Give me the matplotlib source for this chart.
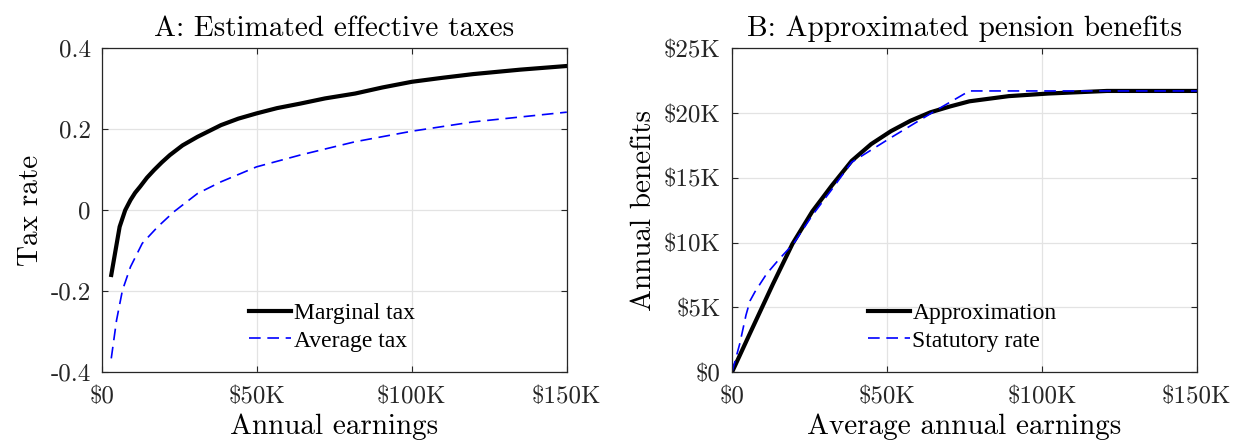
import numpy as np
import matplotlib.pyplot as plt
from matplotlib.ticker import FuncFormatter

# Panel A: effective tax rates (earnings in $K)
earn_a = [3.0, 5.7, 7.5, 9.2, 10.7, 12.3, 14.5, 16.8, 19.3, 21.9, 26.0, 30.8, 38.4, 44.0,
          49.9, 56.5, 63.9, 72.0, 81.7, 90.5, 100.0, 110.0, 119.8, 135.0, 150.0]
marginal_tax = [-0.16, -0.041, 0.0, 0.025, 0.043, 0.058, 0.08, 0.099, 0.118, 0.136, 0.16,
                0.181, 0.21, 0.226, 0.239, 0.252, 0.263, 0.276, 0.288, 0.303, 0.317,
                0.327, 0.336, 0.347, 0.356]
earn_avg = [3.0, 4.7, 6.6, 9.2, 13.0, 18.0, 23.2, 30.8, 38.4, 49.9, 63.9, 81.7, 100.0, 119.8, 150.0]
average_tax = [-0.366, -0.272, -0.198, -0.14, -0.082, -0.041, -0.004, 0.041, 0.07, 0.107,
               0.136, 0.169, 0.195, 0.218, 0.242]

# Panel B: pension benefits (both axes in $K)
earn_b = [0, 5.6, 13.2, 19.5, 25.9, 32.2, 38.6, 44.9, 51.3, 57.6, 64.0, 70.3, 76.6, 89.3,
          102.0, 121.0, 150.0]
approx_benefit = [0, 2.9, 6.8, 9.9, 12.4, 14.4, 16.3, 17.6, 18.6, 19.4, 20.05, 20.5, 20.9,
                  21.3, 21.5, 21.7, 21.7]
earn_stat = [0, 2.5, 4.5, 5.8, 7.4, 11.2, 15.5, 19.8, 25.9, 32.2, 38.6, 51.3, 66.5, 76.6, 100.0, 150.0]
statutory = [0, 2.2, 4.4, 5.5, 6.2, 7.6, 8.8, 9.9, 12.1, 14.1, 16.2, 18.1, 20.3, 21.7, 21.7, 21.7]

plt.rcParams['font.family'] = ['cmr10', 'DejaVu Serif']
plt.rcParams['axes.unicode_minus'] = False

fig = plt.figure(figsize=(12.33, 4.42), dpi=100)
ax1 = fig.add_axes([0.0827, 0.158, 0.377, 0.733])
ax2 = fig.add_axes([0.5937, 0.158, 0.377, 0.733])

def kfmt(v, pos):
    return "\\$0" if v == 0 else "\\$%dK" % v

def style(ax):
    ax.grid(True, color='#e3e3e3', linewidth=0.9)
    ax.set_axisbelow(True)
    for s in ax.spines.values():
        s.set_color('#262626')
        s.set_linewidth(0.9)
    ax.tick_params(direction='in', top=True, right=True, length=4,
                   width=0.8, color='#262626', labelsize=18, labelcolor='#262626', pad=8)
    ax.tick_params(axis='x', pad=10)

leg_font = {'family': ['Liberation Serif', 'DejaVu Serif'], 'size': 17}

ax1.plot(earn_a, marginal_tax, color='black', linewidth=3.0, label='Marginal tax')
ax1.plot(earn_avg, average_tax, color='#0000ff', linewidth=1.2, dashes=(7, 4), label='Average tax')
ax1.set_xlim(0, 150)
ax1.set_ylim(-0.4, 0.4)
ax1.set_xticks([0, 50, 100, 150])
ax1.set_yticks([-0.4, -0.2, 0, 0.2, 0.4])
ax1.set_yticklabels(['-0.4', '-0.2', '0', '0.2', '0.4'])
ax1.xaxis.set_major_formatter(FuncFormatter(kfmt))
ax1.set_title('A: Estimated effective taxes', fontsize=21, pad=9)
ax1.set_xlabel('Annual earnings', fontsize=21, labelpad=4)
ax1.set_ylabel('Tax rate', fontsize=21, labelpad=5)
style(ax1)
ax1.legend(loc='center', bbox_to_anchor=(0.494, 0.139), frameon=False, prop=leg_font,
           handlelength=1.8, handletextpad=0.1, labelspacing=0.25)

ax2.plot(earn_b, approx_benefit, color='black', linewidth=3.0, label='Approximation')
ax2.plot(earn_stat, statutory, color='#0000ff', linewidth=1.2, dashes=(7, 4), label='Statutory rate')
ax2.set_xlim(0, 150)
ax2.set_ylim(0, 25)
ax2.set_xticks([0, 50, 100, 150])
ax2.set_yticks([0, 5, 10, 15, 20, 25])
ax2.xaxis.set_major_formatter(FuncFormatter(kfmt))
ax2.yaxis.set_major_formatter(FuncFormatter(kfmt))
ax2.set_title('B: Approximated pension benefits', fontsize=21, pad=9)
ax2.set_xlabel('Average annual earnings', fontsize=21, labelpad=4)
ax2.set_ylabel('Annual benefits', fontsize=21, labelpad=5)
style(ax2)
ax2.legend(loc='center', bbox_to_anchor=(0.495, 0.139), frameon=False, prop=leg_font,
           handlelength=1.8, handletextpad=0.1, labelspacing=0.25)

fig.savefig('out.png', dpi=100)
